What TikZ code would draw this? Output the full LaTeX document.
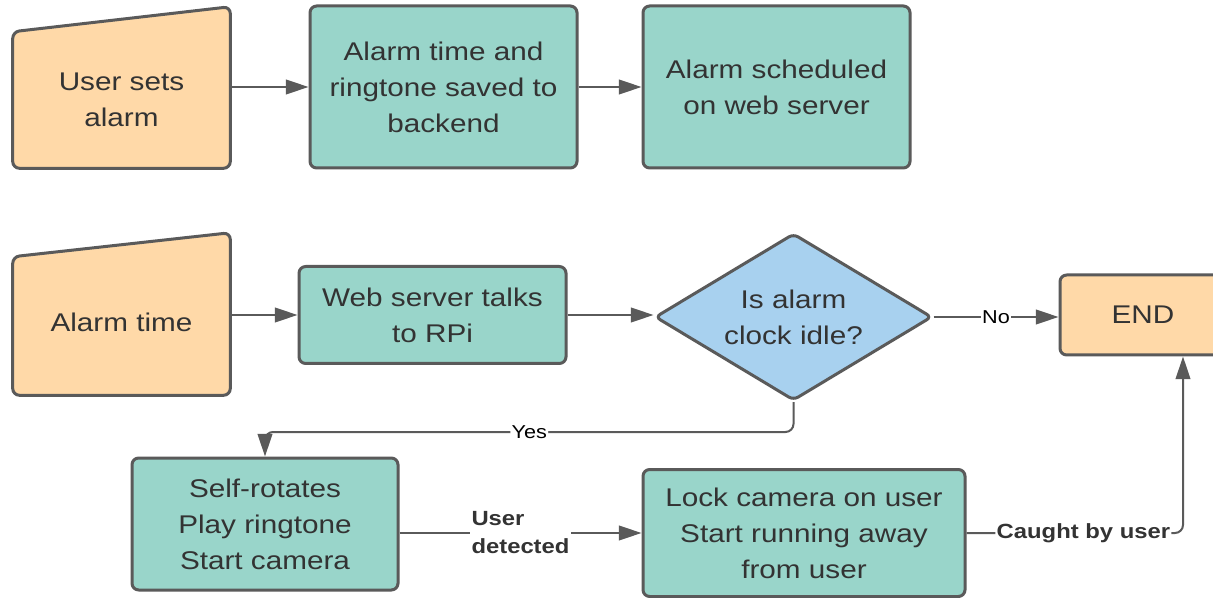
\documentclass[tikz,border=0pt]{standalone}
\usepackage{fontspec}
\setmainfont{Liberation Sans}[FakeStretch=1.16]
\usetikzlibrary{shapes.geometric,arrows.meta,calc}
\definecolor{orangefill}{HTML}{FFD9A8}
\definecolor{tealfill}{HTML}{99D5CA}
\definecolor{bluefill}{HTML}{A8D1EF}
\definecolor{edgecol}{HTML}{5A5A5A}
\definecolor{txtcol}{HTML}{333333}
\tikzset{
  boxbase/.style={draw=edgecol, line width=2.25pt, rounded corners=5pt, align=center,
    text=txtcol, font=\fontsize{19.2}{27}\selectfont, inner sep=0pt},
  tealbox/.style={boxbase, fill=tealfill, rectangle},
  orangebox/.style={boxbase, fill=orangefill, rectangle},
  manualin/.style={rectangle, align=center, text=txtcol, font=\fontsize{19.2}{27}\selectfont, inner sep=0pt},
  manualdraw/.style={draw=edgecol, line width=2.25pt, rounded corners=5pt, fill=orangefill},
  decision/.style={boxbase, diamond, fill=bluefill, rounded corners=4pt},
  conn/.style={draw=edgecol, line width=1.5pt, -{Triangle[length=17pt,width=11pt]}},
  lab/.style={fill=white, inner sep=1pt, text=black, font=\fontsize{14}{17}\selectfont},
  boldlab/.style={fill=white, inner sep=1pt, text=txtcol, align=left, font=\fontsize{15.4}{21}\selectfont\bfseries}
}
\begin{document}
\begin{tikzpicture}[x=0.75pt,y=-0.75pt]
\clip (0,0) rectangle (1213,598);
\fill[white] (0,0) rectangle (1213,598);

% row 1
\node[manualin, minimum width=162.75pt, minimum height=102pt] (u1) at (121.5,100) {};
\draw[manualdraw] (u1.south west) -- (u1.north west) -- ([yshift=18.75pt]u1.north east) -- (u1.south east) -- cycle;
\node[manualin] at (u1.center) {User sets\\alarm};
\node[tealbox, minimum width=200.25pt, minimum height=121.5pt] (u2) at (443.5,87) {Alarm time and\\ringtone saved to\\backend};
\node[tealbox, minimum width=200.25pt, minimum height=121.5pt] (u3) at (776.5,87) {Alarm scheduled\\on web server};

\draw[conn] (u1.east |- u2.west) -- (u2.west);
\draw[conn] (u2.east) -- (u3.west);

% row 2
\node[manualin, minimum width=162.75pt, minimum height=103.5pt] (u4) at (121.5,326) {};
\draw[manualdraw] (u4.south west) -- (u4.north west) -- ([yshift=18pt]u4.north east) -- (u4.south east) -- cycle;
\node[manualin] at ([yshift=3pt]u4.center) {Alarm time};
\node[tealbox, minimum width=200.25pt, minimum height=72.75pt] (u5) at (432.5,315) {Web server talks\\to RPi};
\node[decision, minimum width=207.75pt, minimum height=125.25pt, aspect=1.66] (d) at (793.5,317) {Is alarm\\clock idle?};
\node[orangebox, minimum width=124.5pt, minimum height=60pt] (end) at (1143,315) {END};

\draw[conn] (u4.east |- u5.west) -- (u5.west);
\draw[conn] (u5.east) -- (u5.east -| d.west);
\draw[conn] (d.east) -- node[lab]{No} (d.east -| end.west);

% row 3
\node[tealbox, minimum width=199.5pt, minimum height=99pt] (u8) at (265,524) {Self-rotates\\Play ringtone\\Start camera};
\node[tealbox, minimum width=241.5pt, minimum height=95.25pt] (u9) at (804,533) {Lock camera on user\\Start running away\\from user};

\coordinate (yl) at (0,432);
\draw[conn, rounded corners=6pt] (d.south) -- (d.south |- yl) -- node[lab]{Yes} (u8.north |- yl) -- (u8.north);

\draw[conn] (u8.east |- u9.west) -- node[boldlab]{User\\detected} (u9.west);

\coordinate (cb) at (1183,533);
\draw[conn, rounded corners=6pt] (u9.east) -- node[boldlab, pos=0.54]{Caught by user} (cb) -- (cb |- end.south);
\end{tikzpicture}
\end{document}
